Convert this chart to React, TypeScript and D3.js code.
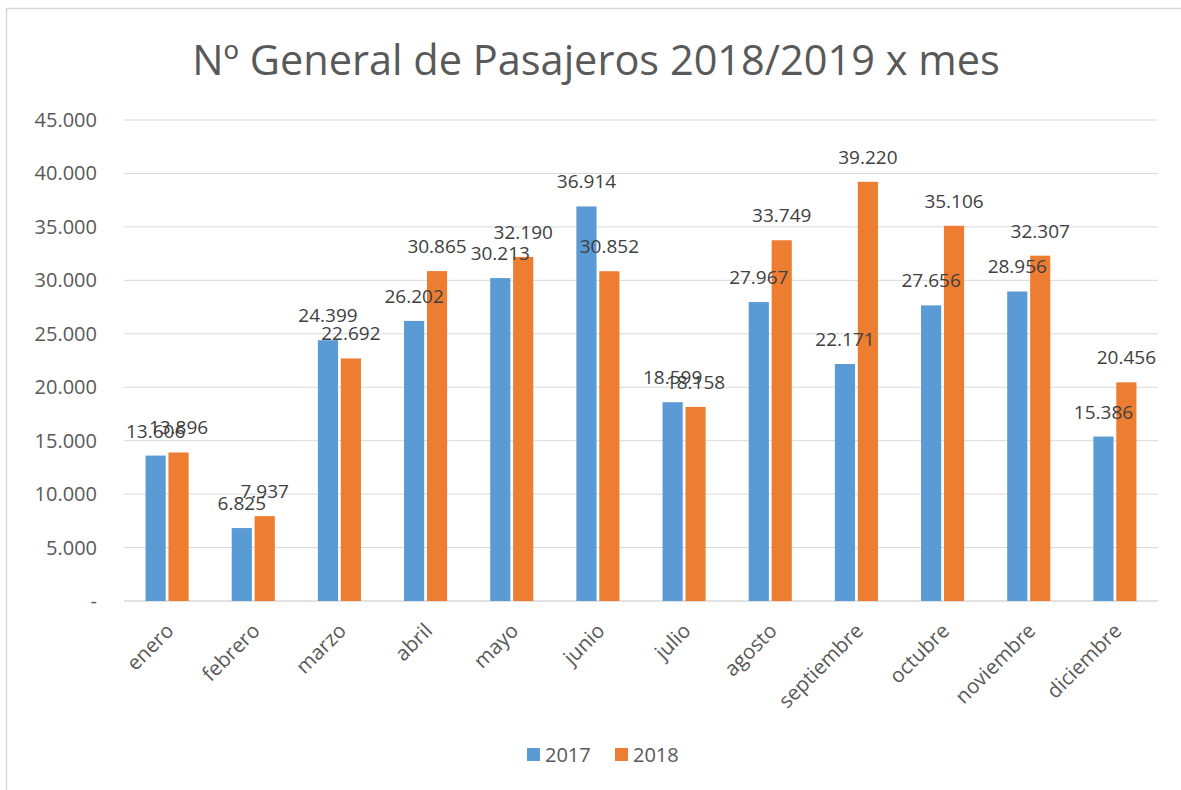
import React from 'react';
import * as d3 from 'd3';

const title = 'Nº General de Pasajeros 2018/2019 x mes';
const months = ['enero', 'febrero', 'marzo', 'abril', 'mayo', 'junio', 'julio', 'agosto', 'septiembre', 'octubre', 'noviembre', 'diciembre'];
const seriesNames = ['2017', '2018'];
const values2017 = [13606, 6825, 24399, 26202, 30213, 36914, 18599, 27967, 22171, 27656, 28956, 15386];
const values2018 = [13896, 7937, 22692, 30865, 32190, 30852, 18158, 33749, 39220, 35106, 32307, 20456];
const yTicks = [0, 5000, 10000, 15000, 20000, 25000, 30000, 35000, 40000, 45000];
const colors = ['#5B9BD5', '#ED7D31'];

const FONT = '"Open Sans", "Noto Sans", sans-serif';
const TEXT = '#595959';

const locale = d3.formatLocale({ decimal: ',', thousands: '.', grouping: [3], currency: ['', ''] });
const fmt = locale.format(',');

export default function App() {
  const width = 1181;
  const height = 790;
  const plot = { left: 124, right: 1158, top: 120, bottom: 601 };

  const x = d3.scaleBand<string>().domain(months).range([plot.left, plot.right]).paddingInner(0.5).paddingOuter(0.25);
  const xs = d3.scaleBand<string>().domain(seriesNames).range([0, x.bandwidth()]).paddingInner(0.12);
  const y = d3.scaleLinear().domain([0, 45000]).range([plot.bottom, plot.top]);

  const series = [values2017, values2018];

  return (
    <div style={{ position: 'absolute', left: 0, top: 0 }}>
      <svg width={width} height={height} style={{ display: 'block', background: '#fff' }}>
        <rect x={6.5} y={8.5} width={1200} height={800} fill="#fff" stroke="#D9D9D9" strokeWidth={1.5} />
        <text x={596} y={75} textAnchor="middle" fontFamily={FONT} fontSize={41.5} fill={TEXT}>{title}</text>

        {yTicks.map((t) => (
          <g key={t}>
            <line x1={plot.left} x2={plot.right} y1={y(t)} y2={y(t)} stroke="#D9D9D9" strokeWidth={t === 0 ? 1.5 : 1} />
            <text x={97} y={y(t) + 7} textAnchor="end" fontFamily={FONT} fontSize={20} fill={TEXT}>
              {t === 0 ? '-' : fmt(t)}
            </text>
          </g>
        ))}

        {series.map((vals, si) =>
          vals.map((v, i) => {
            const bx = (x(months[i]) ?? 0) + (xs(seriesNames[si]) ?? 0);
            return (
              <rect key={`${si}-${i}`} x={bx} y={y(v)} width={xs.bandwidth()} height={y(0) - y(v)} fill={colors[si]} />
            );
          })
        )}

        {series.map((vals, si) =>
          vals.map((v, i) => {
            const cx = (x(months[i]) ?? 0) + (xs(seriesNames[si]) ?? 0) + xs.bandwidth() / 2;
            return (
              <text key={`l${si}-${i}`} x={cx} y={y(v) - 18} textAnchor="middle" fontFamily={FONT} fontSize={19} fill="#404040">
                {fmt(v)}
              </text>
            );
          })
        )}

        {months.map((m) => {
          const cx = (x(m) ?? 0) + x.bandwidth() / 2;
          return (
            <text key={m} transform={`translate(${cx + 8},${plot.bottom + 31}) rotate(-45)`} textAnchor="end" fontFamily={FONT} fontSize={20.5} fill={TEXT}>
              {m}
            </text>
          );
        })}

        {seriesNames.map((s, i) => (
          <g key={s} transform={`translate(${527 + i * 88},748)`}>
            <rect width={13} height={13} fill={colors[i]} />
            <text x={18} y={14} fontFamily={FONT} fontSize={20} fill={TEXT}>{s}</text>
          </g>
        ))}
      </svg>
    </div>
  );
}
